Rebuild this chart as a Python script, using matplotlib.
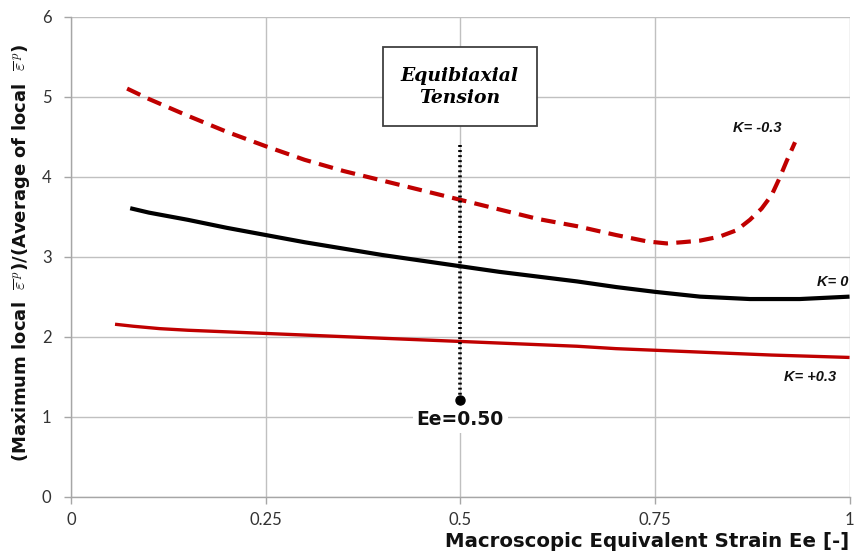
import matplotlib
matplotlib.use("Agg")
import matplotlib.pyplot as plt
from matplotlib.patches import Rectangle

# Strain-localisation ratio vs macroscopic equivalent strain for three K values
x_km03 = [0.072, 0.10, 0.15, 0.20, 0.25, 0.30, 0.35, 0.40, 0.45, 0.50, 0.55,
          0.60, 0.65, 0.70, 0.74, 0.765, 0.785, 0.808, 0.833, 0.855, 0.872,
          0.887, 0.900, 0.910, 0.919, 0.930]
y_km03 = [5.10, 4.97, 4.76, 4.56, 4.38, 4.21, 4.07, 3.95, 3.83, 3.71, 3.59,
          3.47, 3.38, 3.27, 3.19, 3.165, 3.18, 3.20, 3.25, 3.33, 3.46,
          3.60, 3.77, 3.98, 4.19, 4.43]

x_k0 = [0.076, 0.10, 0.15, 0.20, 0.25, 0.30, 0.35, 0.40, 0.45, 0.50, 0.55,
        0.60, 0.65, 0.70, 0.75, 0.808, 0.872, 0.936, 1.00]
y_k0 = [3.605, 3.55, 3.46, 3.36, 3.27, 3.18, 3.10, 3.02, 2.95, 2.88, 2.81,
        2.75, 2.69, 2.62, 2.56, 2.50, 2.47, 2.47, 2.50]

x_kp03 = [0.0565, 0.08, 0.114, 0.15, 0.20, 0.25, 0.30, 0.35, 0.40, 0.45, 0.50,
          0.55, 0.60, 0.65, 0.70, 0.75, 0.80, 0.85, 0.90, 0.95, 1.00]
y_kp03 = [2.155, 2.13, 2.10, 2.08, 2.06, 2.04, 2.02, 2.00, 1.98, 1.96, 1.94,
          1.92, 1.90, 1.88, 1.85, 1.83, 1.81, 1.79, 1.77, 1.755, 1.74]

# Equibiaxial tension marker
ee_marker = 0.50
marker_top = 4.39
marker_bottom = 1.21

x_ticks = [0, 0.25, 0.5, 0.75, 1]
x_ticklabels = ["0", "0.25", "0.5", "0.75", "1"]
y_ticks = [0, 1, 2, 3, 4, 5, 6]

RED = "#c00000"
GRID = "#c0c0c0"
AXIS = "#a6a6a6"
BOLD_FONT = ["DejaVu Sans"]

plt.rcParams["font.family"] = ["Lato", "DejaVu Sans"]
plt.rcParams["mathtext.fontset"] = "cm"

fig = plt.figure(figsize=(8.59, 5.52), dpi=100)
ax = fig.add_axes([0.0827, 0.1002, 0.9063, 0.8698])

ax.plot(x_kp03, y_kp03, color=RED, lw=2.4, solid_capstyle="butt",
        solid_joinstyle="round", zorder=3)
ax.plot(x_k0, y_k0, color="black", lw=3.0, solid_capstyle="butt",
        solid_joinstyle="round", zorder=3)
ax.plot(x_km03, y_km03, color=RED, lw=3.0, ls=(0, (3.5, 2.0)),
        dash_capstyle="butt", dash_joinstyle="round", zorder=3)

# dotted guide at Ee = 0.50
ax.plot([ee_marker, ee_marker], [marker_top, marker_bottom], color="black",
        lw=2.6, ls=(0, (0.55, 0.85)), zorder=4)
ax.plot([ee_marker], [marker_bottom], marker="o", ms=6.5, color="black", zorder=5)
ax.text(ee_marker, 0.96, "Ee=0.50", ha="center", va="center", fontsize=13.5,
        family=BOLD_FONT, fontweight="bold", color="#111111", zorder=6,
        bbox=dict(facecolor="white", edgecolor="none", pad=3))

# annotation box
ax.add_patch(Rectangle((0.4007, 4.63), 0.1973, 0.99, facecolor="white",
                       edgecolor="#404040", lw=1.3, zorder=6))
ax.text(0.4994, 5.12, "Equibiaxial\nTension", ha="center", va="center",
        fontsize=13.5, family="DejaVu Serif", fontweight="bold", style="italic",
        linespacing=1.3, zorder=7)

# curve labels
lab = dict(fontsize=10.5, fontweight="bold", style="italic",
           family="Liberation Sans", color="#111111")
ax.text(0.881, 4.61, "K= -0.3", ha="center", va="center", **lab)
ax.text(0.998, 2.68, "K= 0", ha="right", va="center", **lab)
ax.text(0.949, 1.50, "K= +0.3", ha="center", va="center", **lab)

ax.set_xlim(0, 1)
ax.set_ylim(0, 6)
ax.set_xticks(x_ticks)
ax.set_xticklabels(x_ticklabels)
ax.set_yticks(y_ticks)
ax.grid(True, color=GRID, lw=1.0)
ax.set_axisbelow(True)
for s in ("top", "right"):
    ax.spines[s].set_visible(False)
for s in ("left", "bottom"):
    ax.spines[s].set_color(AXIS)
    ax.spines[s].set_linewidth(1.0)
ax.tick_params(direction="out", length=5, width=1.0, color=AXIS,
               labelsize=12, labelcolor="#333333", pad=9)
ax.tick_params(axis="x", pad=6)

ax.set_xlabel("Macroscopic Equivalent Strain Ee [-]", fontsize=14.2,
              family=BOLD_FONT, fontweight="bold", color="#111111")
ax.xaxis.set_label_coords(1.0, -0.073)
ax.xaxis.label.set_horizontalalignment("right")

ax.set_ylabel(r"(Maximum local  $\overline{\varepsilon}^{\,p}$)/(Average of local  $\overline{\varepsilon}^{\,p}$)",
              fontsize=13, family=BOLD_FONT, fontweight="bold", color="#111111")
ax.yaxis.set_label_coords(-0.05, 0.509)

fig.savefig("out.png", dpi=100)
